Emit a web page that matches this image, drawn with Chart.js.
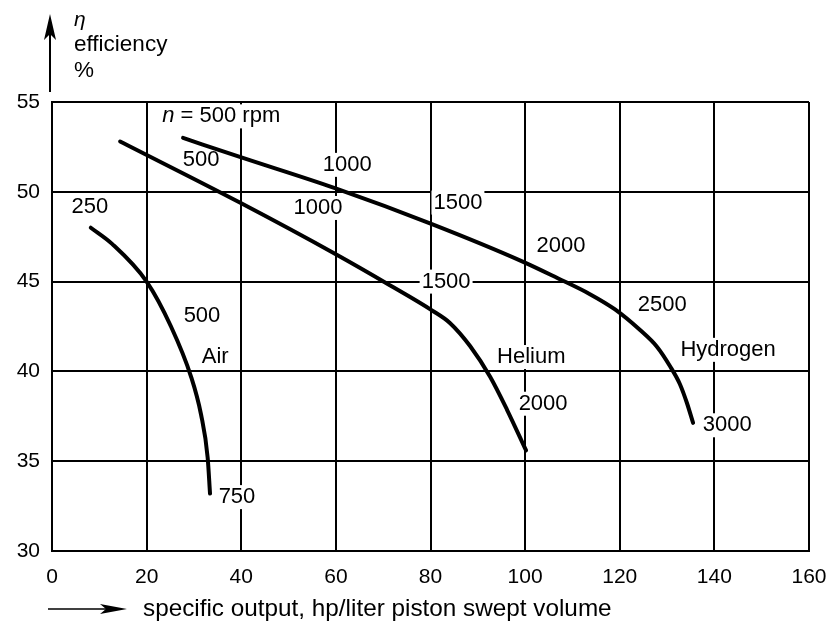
<!DOCTYPE html>
<html>
<head>
<meta charset="utf-8">
<script src="https://cdn.jsdelivr.net/npm/chart.js@4"></script>
<style>
  body { margin: 0; background: #fff; }
  #wrap { width: 831px; height: 625px; position: relative; }
</style>
</head>
<body>
<div id="wrap"><canvas id="effChart"></canvas></div>
<script>
// curves: specific output (hp/liter) vs efficiency (%)
const airX = [8.2, 12.7, 20.0, 25.15, 29.4, 31.5, 32.9, 33.4];
const airY = [48.0, 47.1, 45.0, 42.5, 39.7, 37.6, 35.2, 33.2];

const heliumX = [14.4, 39.7, 59.8, 71.4, 80.3, 84.1, 88.4, 92.6, 96.2, 100.2];
const heliumY = [52.8, 49.4, 46.55, 44.8, 43.4, 42.7, 41.4, 39.7, 37.85, 35.6];

const hydrogenX = [27.7, 39.7, 59.8, 80.3, 99.6, 106.8, 113.7, 119.0, 124.3, 127.9, 130.6, 132.7, 134.2, 135.5];
const hydrogenY = [53.0, 51.94, 50.2, 48.2, 46.1, 45.2, 44.3, 43.45, 42.3, 41.36, 40.3, 39.3, 38.24, 37.13];

// speed / gas annotations (text, x, y in data units)
const noteText = ["250", "500", "Air", "750",
                  "500", "1000", "1500", "Helium", "2000",
                  "1000", "1500", "2000", "2500", "Hydrogen", "3000"];
const noteX = [8.0, 31.7, 34.5, 39.1,
               31.5, 56.2, 83.3, 101.3, 103.8,
               62.4, 85.8, 107.6, 129.0, 142.9, 142.7];
const noteY = [49.15, 43.1, 40.8, 33.0,
               51.8, 49.1, 45.0, 40.8, 38.2,
               51.5, 49.4, 47.0, 43.7, 41.2, 37.0];

const xTicks = [0, 20, 40, 60, 80, 100, 120, 140, 160];
const yTicks = [30, 35, 40, 45, 50, 55];

const FONT = '"Liberation Sans", Arial, sans-serif';

function toPoints(xs, ys) {
    return xs.map((x, i) => ({ x: x, y: ys[i] }));
}

function curve(label, xs, ys) {
    return {
        label: label,
        data: toPoints(xs, ys),
        borderColor: "#000",
        borderWidth: 4,
        borderCapStyle: "round",
        borderJoinStyle: "round",
        pointRadius: 0,
        fill: false,
        cubicInterpolationMode: "monotone"
    };
}

const notesPlugin = {
    id: "notes",
    beforeDatasetsDraw(chart) {
        const ctx = chart.ctx;
        const xs = chart.scales.x, ys = chart.scales.y;
        ctx.save();
        ctx.font = "22px " + FONT;
        ctx.textAlign = "center";
        ctx.textBaseline = "middle";
        noteText.forEach((t, i) => {
            const px = xs.getPixelForValue(noteX[i]);
            const py = ys.getPixelForValue(noteY[i]);
            const w = ctx.measureText(t).width;
            ctx.fillStyle = "#fff";
            ctx.fillRect(px - w / 2 - 2, py - 12, w + 4, 24);
            ctx.fillStyle = "#000";
            ctx.fillText(t, px, py);
        });

        // "n = 500 rpm" header note
        const hx = xs.getPixelForValue(23.3);
        const hy = ys.getPixelForValue(54.2);
        ctx.textAlign = "left";
        ctx.font = "italic 22px " + FONT;
        const nW = ctx.measureText("n").width;
        ctx.font = "22px " + FONT;
        const rest = " = 500 rpm";
        const rW = ctx.measureText(rest).width;
        ctx.fillStyle = "#fff";
        ctx.fillRect(hx - 2, hy - 12, nW + rW + 4, 24);
        ctx.fillStyle = "#000";
        ctx.font = "italic 22px " + FONT;
        ctx.fillText("n", hx, hy);
        ctx.font = "22px " + FONT;
        ctx.fillText(rest, hx + nW, hy);
        ctx.restore();
    },
    afterDraw(chart) {
        const ctx = chart.ctx;
        const area = chart.chartArea;
        ctx.save();
        ctx.strokeStyle = "#000";
        ctx.fillStyle = "#000";
        ctx.lineWidth = 2;

        // y axis arrow
        const ax = area.left - 2;
        ctx.beginPath();
        ctx.moveTo(ax, area.top - 10);
        ctx.lineTo(ax, 30);
        ctx.stroke();
        ctx.beginPath();
        ctx.moveTo(ax, 14);
        ctx.lineTo(ax - 6, 40);
        ctx.lineTo(ax, 34);
        ctx.lineTo(ax + 6, 40);
        ctx.closePath();
        ctx.fill();

        ctx.textAlign = "left";
        ctx.textBaseline = "middle";
        ctx.font = "italic 21px " + FONT;
        ctx.fillText("\u03b7", 74, 20);
        ctx.font = "22.5px " + FONT;
        ctx.fillText("efficiency", 74, 45);
        ctx.fillText("%", 74, 71);

        // x axis arrow
        const ay = 609;
        ctx.lineWidth = 1.5;
        ctx.beginPath();
        ctx.moveTo(48, ay);
        ctx.lineTo(110, ay);
        ctx.stroke();
        ctx.beginPath();
        ctx.moveTo(127, ay);
        ctx.lineTo(100, ay - 5);
        ctx.lineTo(106, ay);
        ctx.lineTo(100, ay + 5);
        ctx.closePath();
        ctx.fill();

        ctx.font = "24.3px " + FONT;
        ctx.fillText("specific output, hp/liter piston swept volume", 143, ay);
        ctx.restore();
    }
};

new Chart(document.getElementById("effChart").getContext("2d"), {
    type: "line",
    data: {
        datasets: [
            curve("Air", airX, airY),
            curve("Helium", heliumX, heliumY),
            curve("Hydrogen", hydrogenX, hydrogenY)
        ]
    },
    options: {
        responsive: true,
        maintainAspectRatio: false,
        animation: false,
        layout: { padding: { top: 102, right: 22, left: 0, bottom: 0 } },
        plugins: {
            legend: { display: false },
            tooltip: { enabled: false }
        },
        scales: {
            x: {
                type: "linear",
                min: 0,
                max: 160,
                afterBuildTicks: s => { s.ticks = xTicks.map(v => ({ value: v })); },
                afterFit: s => { s.height = 74; s.paddingLeft = 0; s.paddingRight = 0; },
                grid: { color: "#000", lineWidth: 2, drawTicks: false },
                border: { color: "#000", width: 2 },
                ticks: { color: "#000", padding: 14, font: { family: FONT, size: 21 } }
            },
            y: {
                min: 30,
                max: 55,
                afterBuildTicks: s => { s.ticks = yTicks.map(v => ({ value: v })); },
                afterFit: s => { s.width = 52; s.paddingTop = 0; s.paddingBottom = 0; },
                grid: { color: "#000", lineWidth: 2, drawTicks: false },
                border: { color: "#000", width: 2 },
                ticks: { color: "#000", padding: 12, font: { family: FONT, size: 21 } }
            }
        }
    },
    plugins: [notesPlugin]
});
</script>
</body>
</html>
